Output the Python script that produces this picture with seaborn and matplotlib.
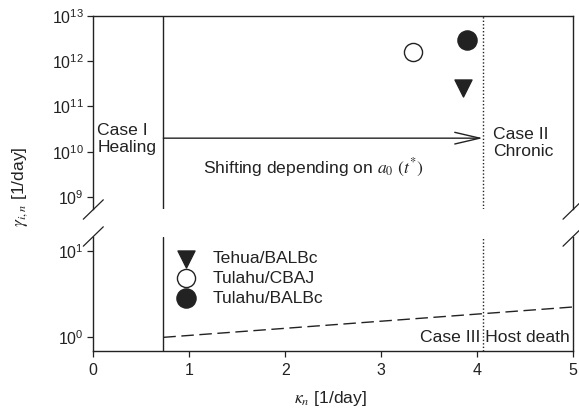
import numpy as np
import pandas as pd
import matplotlib
matplotlib.use("Agg")
import matplotlib.pyplot as plt
import seaborn as sns
from matplotlib.ticker import FixedLocator, FuncFormatter, NullLocator

# ---- data ----
strains = ["Tehua/BALBc", "Tulahu/CBAJ", "Tulahu/BALBc"]
kappa = [3.85, 3.33, 3.90]
gamma = [2.6e11, 1.6e12, 2.9e12]
death_kappa = [0.73, 5.0]
death_gamma = [1.0, 2.25]
kappa_heal = 0.73
kappa_chronic = 4.06
arrow_gamma = 2.0e10
x_ticks = [0, 1, 2, 3, 4, 5]
upper_ticks = [1e9, 1e10, 1e11, 1e12, 1e13]
lower_ticks = [1, 10]

sns.set_theme(style="ticks")
plt.rcParams["font.family"] = ["Liberation Sans", "DejaVu Sans"]
plt.rcParams["mathtext.fontset"] = "stix"
INK = "#222222"
FS = 12.6

W, H = 579, 409
fig = plt.figure(figsize=(W / 100, H / 100), dpi=100)
fig.patch.set_facecolor("white")

def rect(l, t, r, b):
    return [l / W, 1 - b / H, (r - l) / W, (b - t) / H]

ax_up = fig.add_axes(rect(93.3, 15.7, 573, 209))
ax_lo = fig.add_axes(rect(93.3, 236.5, 573, 350.7))

df = pd.DataFrame({"strain": strains, "kappa": kappa, "gamma": gamma})
style = {
    "Tehua/BALBc": dict(marker="v", facecolor=INK, s=150),
    "Tulahu/CBAJ": dict(marker="o", facecolor="white", s=170),
    "Tulahu/BALBc": dict(marker="o", facecolor=INK, s=190),
}
for name in strains:
    sub = df[df["strain"] == name]
    st = style[name]
    sns.scatterplot(data=sub, x="kappa", y="gamma", ax=ax_up, marker=st["marker"],
                    s=st["s"], color=st["facecolor"], edgecolor=INK, linewidth=1.0,
                    legend=False, label=name, zorder=5)

ddf = pd.DataFrame({"kappa": death_kappa, "gamma": death_gamma})
sns.lineplot(data=ddf, x="kappa", y="gamma", ax=ax_lo, color=INK, lw=1.0,
             dashes=False, linestyle=(0, (9, 4)), legend=False)

for ax in (ax_up, ax_lo):
    ax.set_yscale("log")
    ax.set_xlim(0, 5)
    ax.axvline(kappa_heal, color=INK, lw=1.0)
    ax.axvline(kappa_chronic, color=INK, lw=1.0, linestyle=(0, (1, 1.5)))
    ax.set_xlabel("")
    ax.set_ylabel("")
    ax.yaxis.set_minor_locator(NullLocator())
    ax.xaxis.set_minor_locator(NullLocator())
    for sp in ax.spines.values():
        sp.set_color(INK)
        sp.set_linewidth(1.0)
    ax.tick_params(direction="out", length=4, width=0.9, color=INK,
                   labelsize=11.5, labelcolor=INK, pad=3)

fmt = FuncFormatter(lambda v, p: r"$\mathregular{10^{%d}}$" % int(round(np.log10(v))))
ax_up.set_ylim(10 ** 8.74, 1e13)
ax_up.yaxis.set_major_locator(FixedLocator(upper_ticks))
ax_up.yaxis.set_major_formatter(fmt)
ax_up.spines["bottom"].set_visible(False)
ax_up.tick_params(axis="x", bottom=False, labelbottom=False)

ax_lo.set_ylim(10 ** -0.155, 10 ** 1.17)
ax_lo.yaxis.set_major_locator(FixedLocator(lower_ticks))
ax_lo.yaxis.set_major_formatter(fmt)
ax_lo.spines["top"].set_visible(False)
ax_lo.xaxis.set_major_locator(FixedLocator(x_ticks))
ax_lo.xaxis.set_major_formatter(FuncFormatter(lambda v, p: "%d" % v))
ax_lo.tick_params(axis="x", pad=5)

# arrow
ax_up.annotate("", xy=(kappa_chronic, arrow_gamma), xytext=(kappa_heal, arrow_gamma),
               arrowprops=dict(arrowstyle="->,head_length=1.8,head_width=0.42",
                               lw=1.0, color=INK, shrinkA=0, shrinkB=0,
                               mutation_scale=10))

tk = dict(color=INK, fontsize=FS)
ax_up.text(0.04, 10 ** 10.28, "Case I\nHealing", ha="left", va="center",
           linespacing=1.15, **tk)
ax_up.text(4.165, 10 ** 10.2, "Case II\nChronic", ha="left", va="center",
           linespacing=1.15, **tk)
ax_up.text(2.3, 10 ** 9.64, r"Shifting depending on $a_0$ $(t^{*})$",
           ha="center", va="center", **tk)
ax_lo.text(4.97, 1.0, "Case III Host death", ha="right", va="center", **tk)

handles, labels = ax_up.get_legend_handles_labels()
ax_lo.legend(handles, labels, loc="upper left", bbox_to_anchor=(0.14, 0.98),
             frameon=False, fontsize=FS, labelcolor=INK, handletextpad=0.8,
             labelspacing=0.25, borderpad=0.2, handlelength=1.5)

# break marks
def brk(x, y):
    fig.add_artist(plt.Line2D([(x - 10) / W, (x + 10) / W],
                              [1 - (y + 9.7) / H, 1 - (y - 9.7) / H],
                              color=INK, lw=0.9))
for xx in (93.3, 573):
    brk(xx, 209.5)
    brk(xx, 236.5)

fig.text(20 / W, 1 - 187 / H, r"$\gamma_{i,n}$ [1/day]", rotation=90,
         ha="center", va="center", color=INK, fontsize=FS)
fig.text(330 / W, 1 - 398 / H, r"$\kappa_{n}$ [1/day]", ha="center",
         va="center", color=INK, fontsize=FS)

fig.savefig("out.png", dpi=100, facecolor="white")
